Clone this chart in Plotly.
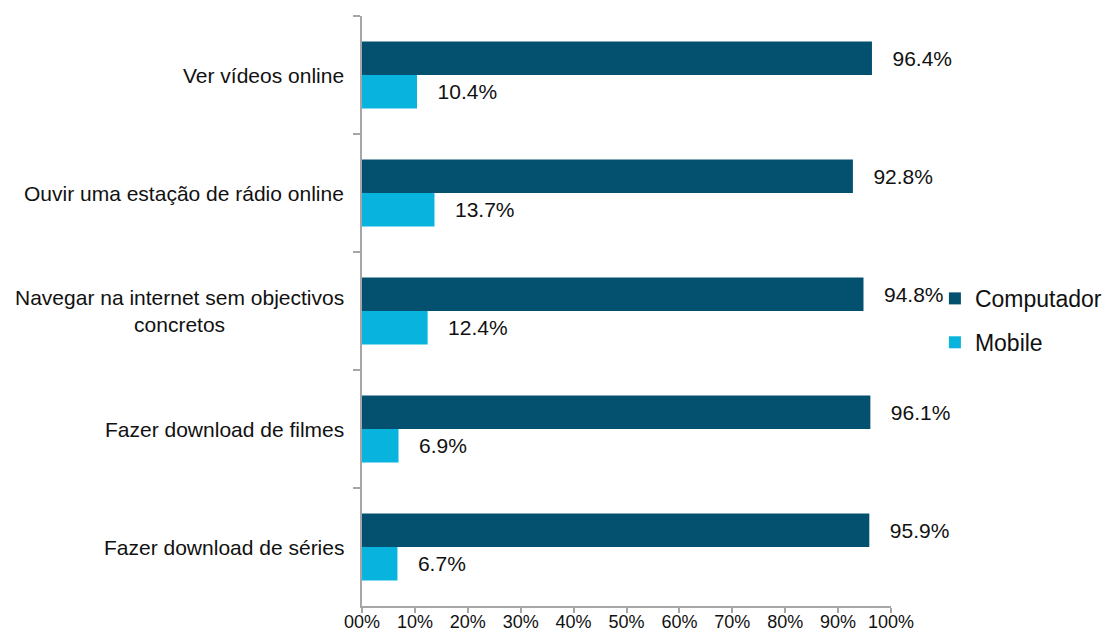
import plotly.graph_objects as go

# Activities (top to bottom) and share of users per device
categories = [
    "Ver vídeos online",
    "Ouvir uma estação de rádio online",
    "Navegar na internet sem objectivos<br>concretos",
    "Fazer download de filmes",
    "Fazer download de séries",
]
computador = [96.4, 92.8, 94.8, 96.1, 95.9]
mobile = [10.4, 13.7, 12.4, 6.9, 6.7]

x_tickvals = [0, 10, 20, 30, 40, 50, 60, 70, 80, 90, 100]
x_ticktext = ["00%", "10%", "20%", "30%", "40%", "50%", "60%", "70%", "80%", "90%", "100%"]

FONT = "Liberation Sans, Arial, Helvetica, sans-serif"
DARK = "#03506F"
CYAN = "#08B3DE"
AXIS = "#A6A6A6"
PAD = "\u00a0\u00a0\u00a0"


def labels(values):
    return [PAD + f"{v:.1f}%" for v in values]


fig = go.Figure()
fig.add_trace(go.Bar(
    y=categories, x=computador, orientation="h", name="Computador",
    marker=dict(color=DARK, line=dict(width=0)),
    text=labels(computador), textposition="outside",
    textfont=dict(family=FONT, size=21, color="#111111"),
    legendgroup="c", cliponaxis=False, constraintext="none",
))
fig.add_trace(go.Bar(
    y=categories, x=mobile, orientation="h", name="Mobile",
    marker=dict(color=CYAN, line=dict(width=0)),
    text=labels(mobile), textposition="outside",
    textfont=dict(family=FONT, size=21, color="#111111"),
    legendgroup="m", cliponaxis=False, constraintext="none",
))

# Category names, centred on each line and right-aligned to the axis
for cat in categories:
    fig.add_annotation(
        xref="paper", x=0, y=cat, yref="y", text=cat, showarrow=False,
        xanchor="right", yanchor="middle", align="center", xshift=-16,
        font=dict(family=FONT, size=21, color="#111111"),
    )

fig.update_layout(
    width=1109, height=632,
    margin=dict(l=362, r=218, t=16, b=26, autoexpand=False),
    paper_bgcolor="white", plot_bgcolor="white",
    barmode="group", bargap=0.432, bargroupgap=0,
    font=dict(family=FONT, color="#111111"),
    legend=dict(
        x=1.083, xanchor="left", y=0.484, yanchor="middle",
        traceorder="grouped", tracegroupgap=11,
        font=dict(family=FONT, size=23, color="#111111"),
        itemwidth=30, bgcolor="rgba(0,0,0,0)",
    ),
    xaxis=dict(
        range=[0, 100], tickvals=x_tickvals, ticktext=x_ticktext,
        showgrid=False, zeroline=False,
        showline=True, linecolor=AXIS, linewidth=1.5,
        ticks="outside", ticklen=5, tickwidth=1.5, tickcolor=AXIS,
        ticklabelstandoff=-6,
        tickfont=dict(family=FONT, size=18, color="#111111"),
    ),
    yaxis=dict(
        autorange="reversed", showticklabels=False,
        showgrid=False, zeroline=False,
        showline=True, linecolor=AXIS, linewidth=1.5,
        ticks="outside", tickson="boundaries", ticklen=7,
        tickwidth=1.5, tickcolor=AXIS,
    ),
)

fig.write_html("out.html")
